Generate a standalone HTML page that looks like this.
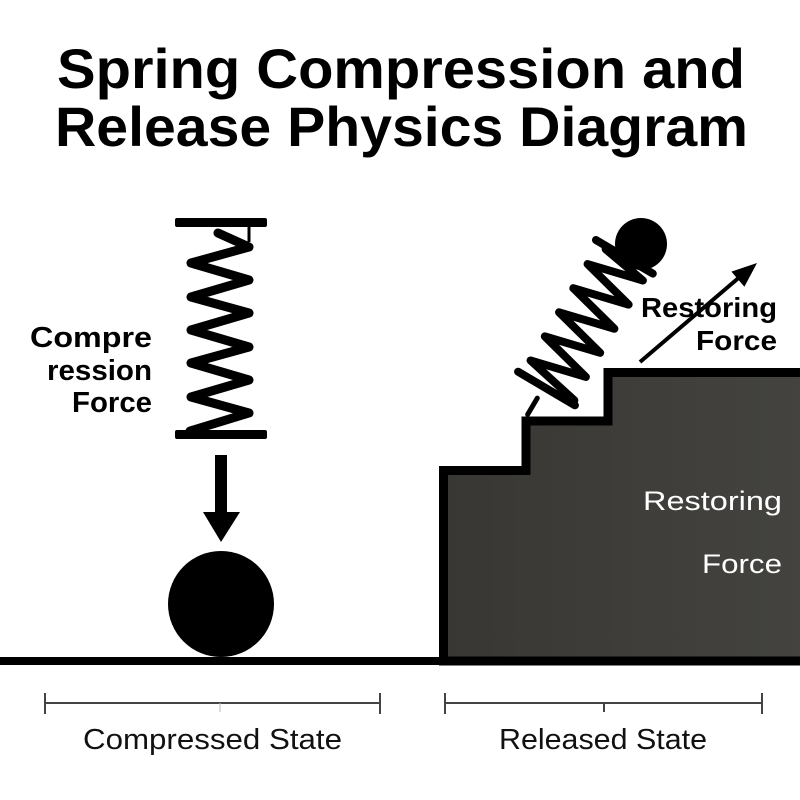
<!DOCTYPE html>
<html>
<head>
<meta charset="utf-8">
<style>
html,body{margin:0;padding:0;background:#fff;}
svg{display:block;}
</style>
</head>
<body>
<svg width="800" height="800" viewBox="0 0 800 800" xmlns="http://www.w3.org/2000/svg">
  <defs>
    <linearGradient id="blk" x1="0" y1="0" x2="1" y2="0">
      <stop offset="0" stop-color="#383734"/>
      <stop offset="1" stop-color="#44433f"/>
    </linearGradient>
  </defs>
  <rect width="800" height="800" fill="#fff"/>

  <!-- Title -->
  <g font-family="'Liberation Sans', Arial, sans-serif" font-weight="bold" font-size="56" fill="#000">
    <text x="57" y="88" textLength="688" lengthAdjust="spacingAndGlyphs">Spring Compression and</text>
    <text x="55" y="146" textLength="693" lengthAdjust="spacingAndGlyphs">Release Physics Diagram</text>
  </g>

  <!-- Stairs block -->
  <path d="M443.5 661 V470.5 H526 V421 H608 V372.5 H805 V661 Z" fill="url(#blk)" stroke="#000" stroke-width="9" stroke-linejoin="miter"/>

  <!-- Ground line -->
  <rect x="0" y="657" width="800" height="8" fill="#000"/>

  <!-- Compressed spring -->
  <rect x="175" y="218" width="92" height="9" rx="2" fill="#000"/>
  <rect x="175" y="430" width="92" height="9" rx="2" fill="#000"/>
  <line x1="249" y1="220" x2="249" y2="242" stroke="#000" stroke-width="3"/>
  <polyline points="218,233 249,247 191,263 249,280 191,297 249,313 191,330 249,347 191,363 249,380 191,397 249,413 190,431"
    fill="none" stroke="#000" stroke-width="9" stroke-linejoin="round" stroke-linecap="round"/>

  <!-- Down arrow -->
  <rect x="215" y="455" width="12" height="60" fill="#000"/>
  <polygon points="203,512 240,512 221,542" fill="#000"/>

  <!-- Compressed ball -->
  <circle cx="221" cy="604" r="53" fill="#000"/>

  <!-- Compression Force label -->
  <g font-family="'Liberation Sans', Arial, sans-serif" font-weight="bold" font-size="29" fill="#000">
    <text x="30" y="347" textLength="122" lengthAdjust="spacingAndGlyphs">Compre</text>
    <text x="47" y="380" textLength="105" lengthAdjust="spacingAndGlyphs">ression</text>
    <text x="72" y="412" textLength="80" lengthAdjust="spacingAndGlyphs">Force</text>
  </g>

  <!-- Released spring -->
  <g transform="translate(546.5,388.5) rotate(-59.4)" stroke="#000" fill="none" stroke-linecap="round" stroke-linejoin="round">
    <line x1="-32" y1="-3" x2="-13" y2="-3" stroke-width="5"/>
    <line x1="0" y1="-33" x2="0" y2="33" stroke-width="8"/>
    <line x1="153" y1="-33" x2="153" y2="33" stroke-width="8"/>
    <polyline stroke-width="8" points="4,30 16,-28 30,28 44,-28 58,28 72,-28 86,28 100,-28 114,28 128,-28 142,28 150,-20"/>
  </g>
  <circle cx="641" cy="244" r="26" fill="#000"/>

  <!-- Restoring force arrow -->
  <line x1="640" y1="362" x2="742" y2="275" stroke="#000" stroke-width="4"/>
  <polygon points="757,263 744.4,286.8 731.4,271.6" fill="#000"/>

  <g font-family="'Liberation Sans', Arial, sans-serif" font-weight="bold" font-size="28" fill="#000">
    <text x="641" y="317" textLength="136" lengthAdjust="spacingAndGlyphs">Restoring</text>
    <text x="696" y="350" textLength="81" lengthAdjust="spacingAndGlyphs">Force</text>
  </g>

  <!-- Text inside block -->
  <g font-family="'Liberation Sans', Arial, sans-serif" font-size="27" fill="#fff">
    <text x="643" y="510" textLength="139" lengthAdjust="spacingAndGlyphs">Restoring</text>
    <text x="702" y="573" textLength="80" lengthAdjust="spacingAndGlyphs">Force</text>
  </g>

  <!-- Dimension lines -->
  <g stroke="#444" stroke-width="2">
    <line x1="45" y1="703" x2="380" y2="703"/>
    <line x1="45" y1="693" x2="45" y2="714"/>
    <line x1="380" y1="693" x2="380" y2="714"/>
    <line x1="220" y1="703" x2="220" y2="712" stroke="#bbb" stroke-width="1"/>
    <line x1="445" y1="703" x2="762" y2="703"/>
    <line x1="445" y1="693" x2="445" y2="714"/>
    <line x1="762" y1="693" x2="762" y2="714"/>
    <line x1="604" y1="703" x2="604" y2="712"/>
  </g>

  <g font-family="'Liberation Sans', Arial, sans-serif" font-size="29" fill="#111">
    <text x="83" y="749" textLength="259" lengthAdjust="spacingAndGlyphs">Compressed State</text>
    <text x="499" y="749" textLength="208" lengthAdjust="spacingAndGlyphs">Released State</text>
  </g>
</svg>
</body>
</html>
